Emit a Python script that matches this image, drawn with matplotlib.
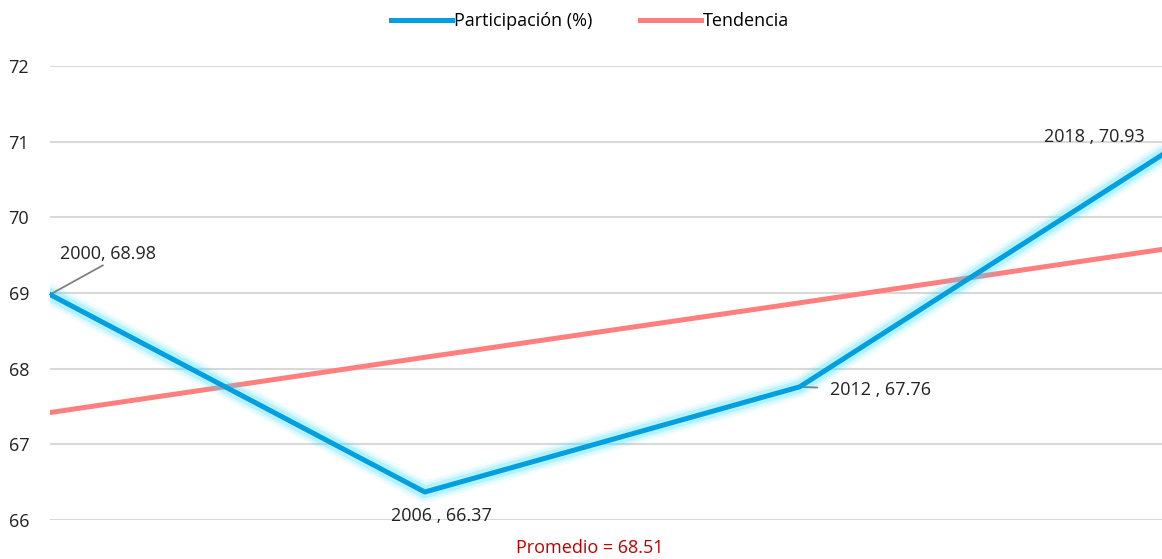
import numpy as np
import matplotlib
matplotlib.use("Agg")
import matplotlib.pyplot as plt

plt.rcParams['font.family'] = ['Open Sans', 'DejaVu Sans']

# data
years = [2000, 2006, 2012, 2018]
participacion = [68.98, 66.37, 67.76, 70.93]
tendencia = [67.42, 68.15, 68.87, 69.60]
point_labels = ["2000, 68.98", "2006 , 66.37", "2012 , 67.76", "2018 , 70.93"]
promedio = 68.51
yticks = [66, 67, 68, 69, 70, 71, 72]

blue = '#009FDF'
salmon = '#FF7F7F'

fig = plt.figure(figsize=(11.62, 5.59), dpi=100)
ax = fig.add_axes([50 / 1162, 1 - 520 / 559, 1 - 50 / 1162, (520 - 66) / 559])

# glow under the main series
for lw, a in [(16, 0.07), (12.5, 0.12), (9, 0.22)]:
    ax.plot(years, participacion, color='#33E0FF', lw=lw, alpha=a,
            solid_capstyle='round', solid_joinstyle='round', zorder=3)
l1, = ax.plot(years, participacion, color=blue, lw=3.6, zorder=4,
              solid_joinstyle='round', label='Participación (%)')
l2, = ax.plot(years, tendencia, color=salmon, lw=3.6, zorder=2, label='Tendencia')

ax.set_xlim(2000, 2017.8)
ax.set_ylim(66, 72)
ax.set_yticks(yticks)
ax.set_xticks([])
ax.grid(axis='y', color='#D9D9D9', lw=1.5)
ax.set_axisbelow(True)
for s in ax.spines.values():
    s.set_visible(False)
ax.tick_params(axis='y', length=0, labelsize=13, colors='#222222', pad=15)

# point labels
fs = 13
ax.annotate(point_labels[0], (years[0], participacion[0]), xytext=(58, 41),
            textcoords='offset pixels', ha='center', va='center', fontsize=fs,
            color='#222222', annotation_clip=False,
            arrowprops=dict(arrowstyle='-', color='#808080', lw=1.3,
                            shrinkA=0, shrinkB=0, relpos=(0.5, 0.0)))
ax.annotate(point_labels[1], (years[1], participacion[1]), xytext=(17, -24),
            textcoords='offset pixels', ha='center', va='center', fontsize=fs,
            color='#222222', annotation_clip=False)
ax.annotate(point_labels[2], (years[2], participacion[2]), xytext=(30, -3),
            textcoords='offset pixels', ha='left', va='center', fontsize=fs,
            color='#222222', annotation_clip=False,
            arrowprops=dict(arrowstyle='-', color='#808080', lw=1.3,
                            shrinkA=7, shrinkB=0, relpos=(0.0, 0.6)))
ax.annotate(point_labels[3], (years[3], participacion[3]), xytext=(-80, 10),
            textcoords='offset pixels', ha='center', va='center', fontsize=fs,
            color='#222222', annotation_clip=False)

fig.text(590 / 1162, 1 - 548 / 559, f"Promedio = {promedio:.2f}", ha='center',
         va='center', fontsize=13, color='#C00000')

fig.legend(handles=[l1, l2], loc='center', bbox_to_anchor=(590 / 1162, 1 - 21 / 559),
           ncol=2, frameon=False, fontsize=13, handlelength=3.4,
           handletextpad=0.1, columnspacing=2.6)

fig.savefig('out.png', dpi=100)
